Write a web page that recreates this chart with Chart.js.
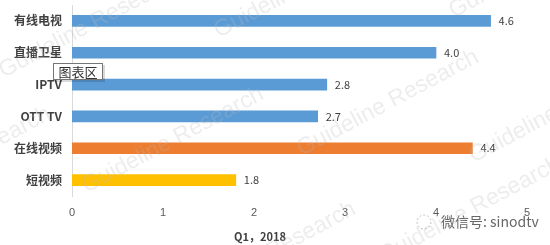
<!DOCTYPE html>
<html>
<head>
<meta charset="utf-8">
<script src="https://cdn.jsdelivr.net/npm/chart.js@4/dist/chart.umd.min.js"></script>
<style>
  html, body { margin: 0; padding: 0; background: #fff; }
  #wrap { width: 550px; height: 245px; position: relative; }
</style>
</head>
<body>
<div id="wrap"><canvas id="chart"></canvas></div>
<script>
// data
const categories = ['有线电视', '直播卫星', 'IPTV', 'OTT TV', '在线视频', '短视频'];
const values = [4.6, 4.0, 2.8, 2.7, 4.4, 1.8];
const barColors = ['#5B9BD5', '#5B9BD5', '#5B9BD5', '#5B9BD5', '#ED7D31', '#FFC000'];
const xTicks = [0, 1, 2, 3, 4, 5];
const axisTitle = 'Q1，2018';

// watermark positions (centre x, centre y)
const marks = [[90, 25], [305, -15], [173, 140], [388, 103], [-40, 160], [470, 210], [265, 255], [560, 110], [540, -35]];

const cjk = '"Noto Sans CJK SC", "Microsoft YaHei", sans-serif';

const extras = {
  id: 'extras',
  beforeDraw(chart) {
    const ctx = chart.ctx;
    // wechat id, under the ticks
    ctx.save();
    ctx.strokeStyle = 'rgba(150,150,150,0.6)';
    ctx.setLineDash([2, 2]);
    ctx.beginPath();
    ctx.arc(424, 222, 7, 0, Math.PI * 2);
    ctx.stroke();
    ctx.setLineDash([]);
    ctx.font = '14px ' + cjk;
    ctx.textAlign = 'left';
    ctx.textBaseline = 'middle';
    ctx.fillStyle = '#666';
    ctx.fillText('微信号: sinodtv', 441, 222);
    ctx.restore();
  },
  afterDatasetsDraw(chart) {
    const ctx = chart.ctx;
    const meta = chart.getDatasetMeta(0);
    // value labels
    ctx.save();
    ctx.font = '11px ' + cjk;
    ctx.fillStyle = '#404040';
    ctx.textBaseline = 'middle';
    ctx.textAlign = 'left';
    meta.data.forEach((bar, i) => {
      ctx.fillText(values[i].toFixed(1), bar.x + 8, bar.y);
    });
    ctx.restore();

    // axis title
    ctx.save();
    ctx.font = 'bold 11px ' + cjk;
    ctx.fillStyle = '#404040';
    ctx.textAlign = 'center';
    ctx.textBaseline = 'middle';
    ctx.fillText(axisTitle, 260, 237);
    ctx.restore();
  },
  afterDraw(chart) {
    const ctx = chart.ctx;
    // watermarks
    ctx.save();
    ctx.font = '23px Arial, "Liberation Sans", sans-serif';
    ctx.textAlign = 'center';
    ctx.textBaseline = 'middle';
    marks.forEach(m => {
      ctx.save();
      ctx.translate(m[0], m[1]);
      ctx.rotate(-28 * Math.PI / 180);
      ctx.fillStyle = 'rgba(185,185,185,0.26)';
      ctx.fillText('Guideline Research', 0, 0);
      ctx.restore();
    });
    ctx.restore();

    // tooltip-like box
    ctx.save();
    ctx.fillStyle = 'rgba(0,0,0,0.15)';
    ctx.fillRect(55, 65, 50, 17);
    ctx.fillStyle = '#fff';
    ctx.fillRect(53, 63, 50, 17);
    ctx.strokeStyle = '#767676';
    ctx.lineWidth = 1;
    ctx.strokeRect(53.5, 63.5, 49, 16);
    ctx.fillStyle = '#333';
    ctx.font = '13px ' + cjk;
    ctx.textAlign = 'center';
    ctx.textBaseline = 'middle';
    ctx.fillText('图表区', 78, 72);
    ctx.restore();
  }
};

new Chart(document.getElementById('chart'), {
  type: 'bar',
  data: {
    labels: categories,
    datasets: [{
      data: values,
      backgroundColor: barColors,
      barThickness: 11
    }]
  },
  options: {
    indexAxis: 'y',
    responsive: true,
    maintainAspectRatio: false,
    animation: false,
    layout: { padding: { top: 5, right: 23, left: 0, bottom: 0 } },
    plugins: { legend: { display: false }, tooltip: { enabled: false } },
    scales: {
      x: {
        min: 0,
        max: 5,
        afterBuildTicks: s => { s.ticks = xTicks.map(v => ({ value: v })); },
        afterFit: s => { s.height = 49; },
        grid: { display: false },
        border: { display: false },
        ticks: { color: '#595959', font: { size: 11 }, padding: 2 }
      },
      y: {
        afterFit: s => { s.width = 72; s.paddingTop = 0; s.paddingBottom = 0; },
        grid: { display: false, drawTicks: false },
        border: { color: '#d9d9d9' },
        ticks: {
          color: '#404040',
          padding: 10,
          font: { size: 12, weight: 'bold', family: cjk }
        }
      }
    }
  },
  plugins: [extras]
});
</script>
</body>
</html>
